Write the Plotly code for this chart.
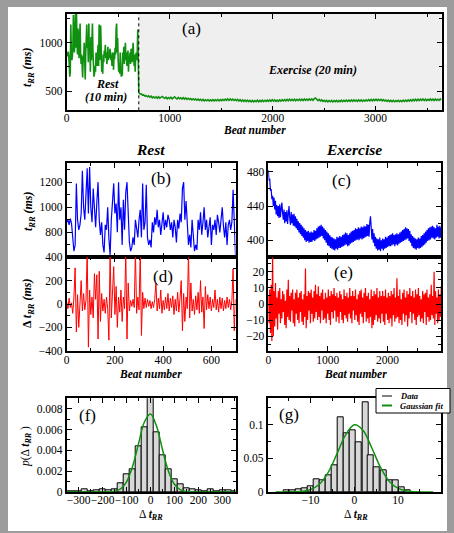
import numpy as np
import plotly.graph_objects as go

# ---------------- DATA ----------------
rest_step = 5      # beats between listed rest samples
ex_step = 12       # beats between listed exercise samples

rest_rr = [880, 900, 860, 910, 870, 760, 650, 700, 1190, 900, 820, 860, 950, 1290, 1000, 900, 1100, 1310, 950, 1320,
           1000, 880, 1150, 950, 840, 1040, 1200, 900, 780, 880, 700, 640, 860, 820, 1000, 750, 620, 900, 1050, 1190,
           950, 1030, 800, 1200, 900, 1000, 700, 1060, 820, 1120, 1200, 900, 720, 650, 680, 760, 700, 900, 820, 760,
           900, 980, 760, 1190, 820, 880, 1180, 760, 700, 740, 680, 880, 800, 920, 860, 980, 840, 900, 780, 880,
           960, 820, 900, 840, 940, 900, 820, 880, 760, 900, 840, 720, 900, 830, 950, 880, 1150, 1200, 900, 1050,
           820, 700, 780, 680, 900, 740, 650, 700, 660, 900, 820, 960, 780, 880, 1000, 820, 900, 760, 840, 920,
           700, 860, 820, 900, 780, 940, 880, 800, 900, 1000, 850, 760, 880, 700, 860, 900, 820, 880, 1140, 860, 620]

ex_rr = [482, 470, 472, 458, 460, 448, 452, 440, 450, 436,
         446, 430, 441, 428, 440, 426, 442, 427, 437, 444,
         432, 424, 436, 420, 433, 422, 435, 419, 430, 440,
         426, 418, 433, 420, 430, 417, 431, 416, 428, 414,
         425, 412, 422, 409, 420, 407, 418, 405, 416, 403,
         414, 400, 412, 398, 410, 399, 411, 397, 409, 398,
         410, 398, 409, 400, 412, 399, 411, 401, 414, 402,
         416, 403, 417, 404, 418, 405, 416, 402, 414, 400,
         412, 397, 410, 394, 408, 393, 406, 391, 404, 390,
         403, 389, 402, 388, 401, 390, 404, 389, 403, 391,
         405, 391, 404, 392, 406, 393, 407, 394, 409, 395,
         408, 393, 406, 394, 408, 396, 410, 397, 411, 398,
         412, 399, 414, 400, 413, 401, 415, 400, 414, 402,
         416, 401, 415, 402, 417, 403, 416, 404, 419, 405,
         418, 404, 421, 428, 415, 401, 413, 397, 408, 393,
         404, 390, 402, 388, 401, 389, 403, 387, 400, 390,
         402, 388, 401, 390, 404, 391, 403, 392, 405, 393,
         406, 393, 407, 394, 408, 395, 406, 393, 407, 395,
         408, 394, 407, 396, 409, 397, 410, 398, 412, 399,
         413, 400, 415, 401, 414, 402, 413, 399, 411, 397,
         407, 393, 405, 391, 403, 390, 402, 389, 401, 391,
         403, 390, 402, 391, 405, 392, 406, 394, 408, 395,
         410, 397, 412, 399, 414, 400, 415, 401, 416, 403,
         417, 402, 415, 401, 414, 403, 418, 404, 416, 402,
         417, 403, 415, 404, 418, 405]

rest_drr = [20, -40, 50, -30, 10, -80, 60, 310, -240, 80, -200, 40, 200, -60, 90, -50, 30, 450, -370, 120,
            -90, 60, -120, 260, 40, 250, -300, 280, -150, 90, -60, 40, -80, 60, -40, -310, 450, -120, 100, 320,
            -90, 150, -200, 60, -70, 120, -150, 60, -40, 450, -300, 180, -60, 30, -20, 40, -30, 450, -80, 60,
            -50, 450, -270, 100, -40, 50, -30, 40, -20, 30, -40, 20, -30, 40, 180, -60, 50, -40, 120, -80,
            30, -50, 60, -40, 90, -60, 50, -30, 70, -90, 40, -60, 100, -70, 50, 200, -230, 90, -150, 60,
            -40, 430, -120, 180, -60, 40, -90, 70, -50, 100, -80, 200, -70, 60, -210, 150, -50, 80, -40, 60,
            -60, 40, -30, 120, -50, 40, -70, 60, -40, 50, -60, 30, -40, 60, -30, 40, -50, 30, 300, -230, 40]

ex_drr = [5, -12, 9, -18, 12, -23, 32, -20, 8, -14,
          13, -9, 4, -16, 8, -6, 10, -12, 3, -9,
          8, -5, 6, -13, 2, -15, 9, -8, 15, -10,
          5, -11, 7, -4, 9, -12, 3, -14, 7, -6,
          9, -10, 4, -12, 7, -5, 8, -11, 3, -13,
          6, -8, 22, -15, 5, -10, 8, -4, 7, -12,
          9, -6, 4, -11, 8, -9, 12, -5, 6, -10,
          11, -8, 5, -12, 7, -4, 9, -10, 3, -9,
          7, -12, 4, -6, 9, -10, 5, -13, 8, -5,
          6, -9, 10, -4, 5, -11, 7, -8, 4, -12,
          8, -5, 6, -10, 3, -12, 9, -7, 5, -9,
          7, -11, 4, -6, 10, -9, 5, -12, 8, -4,
          5, -10, 9, -7, 3, -11, 6, -13, 8, -6,
          9, -8, 4, -12, 7, -5, 10, -11, 5, -9,
          7, -12, 3, -8, 9, -15, 5, -13, 8, -10,
          6, -7, 10, -11, 4, -9, 8, -12, 5, -6,
          8, -11, 5, -13, 9, -6, 4, -10, 7, -12,
          5, -9, 8, -14, 6, -7, 10, -11, 4, -9,
          16, -8, 5, -12, 9, -10, 3, -13, 7, -6,
          9, -11, 4, -7, 8, -14, 6, -9, 10, -5,
          5, -12, 8, -6, 4, -10, 9, -13, 6, -8,
          10, -7, 5, -11, 3, -9, 8, -12, 6, -5,
          7, -13, 9, -8, 4, -11, 6, -10, 12, -7,
          5, -9, 20, -13, 8, -6, 4, -12, 9, -10,
          6, -8, 11, -13, 5, -9]

# histogram (f): rest increments
f_centers = [-350, -325, -300, -275, -250, -225, -200, -175, -150, -125, -100, -75, -50, -25, 0,
             25, 50, 75, 100, 125, 150, 175, 200, 225, 250, 275, 300, 325, 350]
f_dens = [0.00005, 0.00005, 0.0001, 0.0003, 0.0001, 0.0002, 0.0003, 0.0002, 0.0003, 0.0008, 0.0017, 0.0022,
          0.0044, 0.0062, 0.0095, 0.0057, 0.0035, 0.0022, 0.0012, 0.0007, 0.0004, 0.0003, 0.0002, 0.0001,
          0.0003, 0.0001, 0.0002, 0.0002, 0.00005]
f_bin_width = 25
f_fit_x = [-350, -325, -300, -275, -250, -225, -200, -175, -150, -125, -100, -75, -50, -25, 0,
           25, 50, 75, 100, 125, 150, 175, 200, 225, 250, 275, 300, 325, 350]
f_fit_y = [0, 0, 0, 0, 0, 0, 0, 0.00001, 0.00007, 0.0003, 0.00098, 0.00244, 0.00464, 0.00675, 0.00749,
           0.00633, 0.00408, 0.0020, 0.00074, 0.00021, 0.00005, 0.00001, 0, 0, 0, 0, 0, 0, 0]

# histogram (g): exercise increments
g_centers = [-15.5, -14.1, -12.8, -11.4, -10.0, -8.6, -7.2, -5.9, -4.5, -3.1, -1.7, -0.3, 1.1, 2.5,
             3.8, 5.2, 6.6, 8.0, 9.4, 10.8, 12.2]
g_dens = [0.002, 0.003, 0.004, 0.005, 0.008, 0.019, 0.017, 0.025, 0.040, 0.111, 0.087, 0.092, 0.074,
          0.133, 0.054, 0.037, 0.032, 0.018, 0.017, 0.007, 0.002]
g_bin_width = 1.385
g_fit_x = [-18, -16, -14, -12, -10, -8, -6, -4, -2, 0, 2, 4, 6, 8, 10, 12, 14, 16, 18]
g_fit_y = [0, 0.00002, 0.0002, 0.0009, 0.0036, 0.0116, 0.0289, 0.0561, 0.0848, 0.0997, 0.0914, 0.0652,
           0.0362, 0.0157, 0.0053, 0.0014, 0.0003, 0.00004, 0]

legend_labels = ["Data", "Gaussian fit"]

# ---------------- DERIVED X VALUES ----------------
rest_x = np.arange(len(rest_rr)) * rest_step
ex_x = np.arange(len(ex_rr)) * ex_step
rest_end = rest_x[-1]
all_x = np.concatenate([rest_x, rest_end + ex_x])
all_y = np.concatenate([rest_rr, ex_rr])
restd_x = np.arange(len(rest_drr)) * rest_step
exd_x = np.arange(len(ex_drr)) * ex_step

# ---------------- STYLE ----------------
W, H = 454, 533
SERIF = "Liberation Serif"
GREEN = "#109010"
GREY_LINE = "#808080"
FRAME = "#9c9c9c"


def fx(p):
    return p / W


def fy(p):
    return 1 - p / H


def axis(dom, rng, dtick, mdtick, anchor, labels=True, tick0=0, standoff=0):
    return dict(
        domain=dom, range=rng, anchor=anchor, autorange=False, automargin=False,
        showline=True, linecolor="black", linewidth=1.6, mirror="allticks",
        ticks="inside", ticklen=5, tickwidth=1.2, tickcolor="black",
        tick0=tick0, dtick=dtick, tickangle=0, ticklabelstandoff=standoff,
        minor=dict(ticks="inside", ticklen=3, tickwidth=1, tickcolor="black", dtick=mdtick, tick0=tick0,
                   showgrid=False),
        showgrid=False, zeroline=False, showticklabels=labels,
        tickfont=dict(family=SERIF, size=11.5, color="black"),
    )


fig = go.Figure()

# (a)
fig.add_trace(go.Scatter(x=all_x, y=all_y, mode="lines", line=dict(color=GREEN, width=1.6),
                         xaxis="x", yaxis="y", showlegend=False))
# (b)
fig.add_trace(go.Scatter(x=rest_x, y=rest_rr, mode="lines", line=dict(color="#0000ff", width=1.2),
                         xaxis="x2", yaxis="y2", showlegend=False))
# (d)
fig.add_trace(go.Scatter(x=restd_x, y=rest_drr, mode="lines", line=dict(color="#ff0000", width=1),
                         xaxis="x3", yaxis="y3", showlegend=False))
# (c)
fig.add_trace(go.Scatter(x=ex_x, y=ex_rr, mode="lines", line=dict(color="#0000ff", width=1.2),
                         xaxis="x4", yaxis="y4", showlegend=False))
# (e)
fig.add_trace(go.Scatter(x=exd_x, y=ex_drr, mode="lines", line=dict(color="#ff0000", width=1.2),
                         xaxis="x5", yaxis="y5", showlegend=False))
# (f)
fig.add_trace(go.Bar(x=f_centers, y=f_dens, width=f_bin_width,
                     marker=dict(color="#d8d8d8", line=dict(color="black", width=1)),
                     xaxis="x6", yaxis="y6", showlegend=False))
fig.add_trace(go.Scatter(x=f_fit_x, y=f_fit_y, mode="lines", line=dict(color=GREEN, width=1.5, shape="spline"),
                         xaxis="x6", yaxis="y6", showlegend=False))
# (g)
fig.add_trace(go.Bar(x=g_centers, y=g_dens, width=g_bin_width,
                     marker=dict(color="#d8d8d8", line=dict(color="black", width=1)),
                     xaxis="x7", yaxis="y7", showlegend=False))
fig.add_trace(go.Scatter(x=g_fit_x, y=g_fit_y, mode="lines", line=dict(color=GREEN, width=1.5, shape="spline"),
                         xaxis="x7", yaxis="y7", showlegend=False))

xa = [fx(66.7), fx(441.5)]
xl = [fx(66.7), fx(235.5)]
xr = [fx(268.3), fx(441)]
xg = [fx(267.7), fx(441)]

fig.update_layout(
    width=W, height=H, margin=dict(l=0, r=0, t=0, b=0, autoexpand=False),
    paper_bgcolor=FRAME, plot_bgcolor="rgba(0,0,0,0)",
    font=dict(family=SERIF, color="black"),
    bargap=0, showlegend=False,
    xaxis=axis(xa, [0, 3640], 1000, 500, "y", standoff=-4),
    yaxis=axis([fy(110.3), fy(14)], [300, 1300], 500, 250, "x"),
    xaxis2=axis(xl, [0, 700], 200, 100, "y2", labels=False),
    yaxis2=axis([fy(257.3), fy(162.7)], [601, 1355], 200, 100, "x2"),
    xaxis3=axis(xl, [0, 700], 200, 100, "y3", standoff=-2),
    yaxis3=axis([fy(350.7), fy(257.3)], [-400, 400], 200, 100, "x3"),
    xaxis4=axis(xr, [0, 2900], 1000, 500, "y4", labels=False),
    yaxis4=axis([fy(257.3), fy(163.3)], [380, 490], 40, 20, "x4"),
    xaxis5=axis(xr, [0, 2900], 1000, 500, "y5", standoff=-2),
    yaxis5=axis([fy(350.7), fy(257.3)], [-29, 29], 10, 5, "x5"),
    xaxis6=axis(xl, [-350, 355], 100, 50, "y6", standoff=-4),
    yaxis6=axis([fy(492), fy(398.3)], [0, 0.009], 0.002, 0.001, "x6"),
    xaxis7=axis(xg, [-19.8, 19.8], 10, 5, "y7", standoff=-4),
    yaxis7=axis([fy(492), fy(398.3)], [0, 0.139], 0.05, 0.025, "x7"),
)

shapes = [
    dict(type="rect", xref="paper", yref="paper", x0=fx(8), x1=fx(447), y0=fy(531), y1=fy(7),
         fillcolor="white", line=dict(width=0), layer="below"),
    dict(type="rect", xref="x", yref="y domain", x0=rest_end, x1=3640, y0=0, y1=1,
         fillcolor="#efefef", line=dict(width=0), layer="below"),
    dict(type="line", xref="x", yref="y domain", x0=rest_end, x1=rest_end, y0=0, y1=1,
         line=dict(color="black", width=1, dash="dot")),
    # legend box (drawn by hand so it cannot push the margins)
    dict(type="rect", xref="paper", yref="paper", x0=fx(376), x1=fx(450), y0=fy(413), y1=fy(388.5),
         fillcolor="white", line=dict(color="black", width=1)),
    dict(type="line", xref="paper", yref="paper", x0=fx(382), x1=fx(392), y0=fy(396), y1=fy(396),
         line=dict(color=GREY_LINE, width=2)),
    dict(type="line", xref="paper", yref="paper", x0=fx(382), x1=fx(392), y0=fy(405.5), y1=fy(405.5),
         line=dict(color=GREEN, width=2)),
]
fig.update_layout(shapes=shapes)

TRR = "<b><i>t</i></b><sub><b><i>RR</i></b></sub>"


def ann(x, y, text, size=12, angle=0, xanchor="center"):
    return dict(xref="paper", yref="paper", x=fx(x), y=fy(y), text=text, showarrow=False,
                xanchor=xanchor, yanchor="middle", textangle=angle,
                font=dict(family=SERIF, size=size, color="black"))


annotations = [
    ann(191.7, 29, "(a)", 17), ann(161, 178, "(b)", 17), ann(341, 180, "(c)", 17),
    ann(163, 276, "(d)", 17), ann(343, 272, "(e)", 17), ann(87, 415, "(f)", 17), ann(289, 414, "(g)", 17),
    ann(312, 70, "<b><i>Exercise (20 min)</i></b>", 12),
    ann(107, 84, "<b><i>Rest</i></b>", 12),
    ann(106, 97, "<b><i>(10 min)</i></b>", 12),
    ann(150, 149, "<b><i>Rest</i></b>", 15.5),
    ann(354, 149, "<b><i>Exercise</i></b>", 15.5),
    ann(254, 130, "<b><i>Beat number</i></b>", 11.5),
    ann(150, 374, "<b><i>Beat number</i></b>", 11.5),
    ann(355, 374, "<b><i>Beat number</i></b>", 11.5),
    ann(28, 67, TRR + "<b><i> (ms)</i></b>", 12, -90),
    ann(29, 211, TRR + "<b><i> (ms)</i></b>", 12, -90),
    ann(28, 304, "<b>Δ </b>" + TRR + "<b><i> (ms)</i></b>", 12, -90),
    ann(26, 447, "<i>p</i>(Δ " + TRR + " )", 11.5, -90),
    ann(151, 515, "Δ " + TRR, 11.5),
    ann(356, 515, "Δ " + TRR, 11.5),
    ann(398, 396, "<b><i>" + legend_labels[0] + "</i></b>", 8.5, xanchor="left"),
    ann(398, 405.5, "<b><i>" + legend_labels[1] + "</i></b>", 8.5, xanchor="left"),
]
fig.update_layout(annotations=annotations)

# remove the browser's default page margin so the figure sits at the window's corner
page_js = "document.body.style.margin='0';document.body.style.background='" + FRAME + "';"
fig.write_html("out.html", post_script=page_js, config={"displayModeBar": False})
